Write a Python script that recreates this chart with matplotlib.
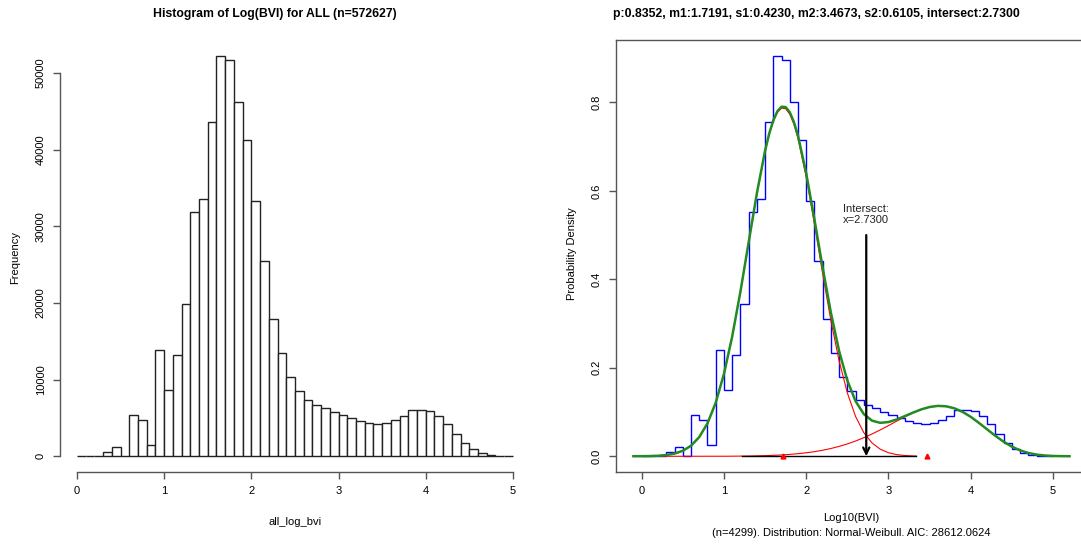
import numpy as np
import matplotlib
matplotlib.use('Agg')
import matplotlib.pyplot as plt

plt.rcParams['font.family'] = ['Liberation Sans', 'DejaVu Sans']

# histogram of log10(BVI), bins of width 0.1 from 0 to 5
bin_edges = np.round(np.arange(0, 5.05, 0.1), 1)
counts = [0, 0, 0, 565, 1260, 0, 5394, 4785, 1520, 13920,
          8660, 13270, 19880, 31930, 33580, 43630, 52220, 51765, 46240, 41325,
          33365, 25450, 17965, 13485, 10310, 8526, 7308, 6700, 6350, 5785,
          5394, 5000, 4655, 4394, 4263, 4394, 4785, 5264, 6090, 6090,
          5873, 5264, 4176, 2958, 1784, 957, 479, 218, 0, 0]

# fitted mixture curves
mix_x = [-0.1, 0.0, 0.1, 0.2, 0.3, 0.4, 0.5, 0.6, 0.7, 0.8, 0.9, 1.0, 1.1, 1.2, 1.3,
         1.4, 1.5, 1.55, 1.6, 1.65, 1.7, 1.75, 1.8, 1.85, 1.9, 2.0, 2.1, 2.2, 2.3, 2.4,
         2.5, 2.6, 2.7, 2.8, 2.9, 3.0, 3.1, 3.2, 3.3, 3.4, 3.5, 3.6, 3.7, 3.8, 3.9,
         4.0, 4.1, 4.2, 4.3, 4.4, 4.5, 4.6, 4.7, 4.8, 4.9, 5.0, 5.1, 5.2]
mix_y = [0.0001, 0.0002, 0.0005, 0.0012, 0.0028, 0.0061, 0.0124, 0.0238, 0.0433, 0.0743,
         0.1208, 0.1858, 0.2701, 0.3714, 0.4828, 0.5937, 0.6904, 0.7290, 0.7592, 0.7798,
         0.7900, 0.7893, 0.7777, 0.7558, 0.7250, 0.6397, 0.5356, 0.4264, 0.3247, 0.2379,
         0.1712, 0.1246, 0.0955, 0.0805, 0.0756, 0.0774, 0.0832, 0.0909, 0.0989, 0.1061,
         0.1114, 0.1139, 0.1130, 0.1085, 0.1004, 0.0891, 0.0754, 0.0607, 0.0461, 0.0328,
         0.0218, 0.0133, 0.0075, 0.0038, 0.0018, 0.0007, 0.0003, 0.0001]

norm_x = [0.1, 0.2, 0.3, 0.4, 0.5, 0.6, 0.7, 0.8, 0.9, 1.0, 1.1, 1.2, 1.3, 1.4, 1.5,
          1.55, 1.6, 1.65, 1.7, 1.75, 1.8, 1.85, 1.9, 2.0, 2.1, 2.2, 2.3, 2.4, 2.5, 2.6,
          2.7, 2.8, 2.9, 3.0, 3.1, 3.2, 3.3, 3.34]
norm_y = [0.0005, 0.0012, 0.0028, 0.0061, 0.0124, 0.0238, 0.0433, 0.0743, 0.1208, 0.1857,
          0.2699, 0.3710, 0.4822, 0.5927, 0.6889, 0.7272, 0.7571, 0.7772, 0.7869, 0.7856,
          0.7734, 0.7508, 0.7189, 0.6318, 0.5252, 0.4128, 0.3068, 0.2156, 0.1433, 0.0901,
          0.0535, 0.0301, 0.0160, 0.0080, 0.0038, 0.0017, 0.0007, 0.0005]

weib_x = [0.1, 0.5, 0.9, 1.0, 1.1, 1.2, 1.3, 1.4, 1.5, 1.6, 1.7, 1.8, 1.9, 2.0, 2.1,
          2.2, 2.3, 2.4, 2.5, 2.6, 2.7, 2.8, 2.9, 3.0, 3.1, 3.2, 3.3, 3.4, 3.5, 3.6,
          3.7, 3.8, 3.9, 4.0, 4.1, 4.2, 4.3, 4.4, 4.5, 4.6, 4.7, 4.8, 4.9, 5.0, 5.1]
weib_y = [0.0, 0.0, 0.0001, 0.0001, 0.0002, 0.0004, 0.0006, 0.0010, 0.0015, 0.0021,
          0.0031, 0.0043, 0.0059, 0.0079, 0.0104, 0.0136, 0.0176, 0.0223, 0.0279, 0.0345,
          0.0420, 0.0504, 0.0596, 0.0694, 0.0794, 0.0892, 0.0982, 0.1058, 0.1113, 0.1139,
          0.1130, 0.1085, 0.1004, 0.0891, 0.0754, 0.0607, 0.0461, 0.0328, 0.0218, 0.0133,
          0.0075, 0.0038, 0.0018, 0.0007, 0.0003]

means = [1.7191, 3.4673]
base_seg = [1.215, 3.34]
intersect = 2.73

ax_col = '#555555'
fs = 8

fig = plt.figure(figsize=(10.81, 5.45), dpi=100)

# ---- left: frequency histogram
ax1 = fig.add_axes([0.0551, 0.1334, 0.4355, 0.7932])
ax1.bar(bin_edges[:-1], counts, width=0.1, align='edge', color='white',
        edgecolor='#222222', linewidth=1.0)
top = max(counts)
ax1.set_ylim(-0.04 * top, 1.04 * top)
ax1.set_xlim(-0.2, 5.2)
for s in ['top', 'right']:
    ax1.spines[s].set_visible(False)
ax1.spines['left'].set_bounds(0, 50000)
ax1.spines['bottom'].set_bounds(0, 5)
for s in ['left', 'bottom']:
    ax1.spines[s].set_color(ax_col)
    ax1.spines[s].set_linewidth(1.0)
ax1.set_xticks(range(6))
ax1.set_yticks(range(0, 50001, 10000))
ax1.set_yticklabels([str(v) for v in range(0, 50001, 10000)], rotation=90, va='center')
ax1.tick_params(length=5, width=1.0, color=ax_col, labelsize=fs, pad=5)
ax1.patch.set_visible(False)

fig.text(275 / 1081, 1 - 14.5 / 545, 'Histogram of Log(BVI) for ALL (n=572627)',
         ha='center', va='center', fontsize=8.8, fontweight='bold')
fig.text(295 / 1081, 1 - 522 / 545, 'all_log_bvi', ha='center', va='center', fontsize=fs)
fig.text(15 / 1081, 1 - 258 / 545, 'Frequency', ha='center', va='center',
         rotation=90, fontsize=fs)

# ---- right: density histogram with fitted mixture
ax2 = fig.add_axes([0.5698, 0.1334, 0.4357, 0.7932])
dens, _, _ = ax2.hist(bin_edges[:-1] + 0.05, bins=bin_edges, weights=counts, density=True,
                      histtype='step', color='blue', linewidth=1.0)
ax2.plot(norm_x, norm_y, color='red', linewidth=0.8)
ax2.plot(weib_x, weib_y, color='red', linewidth=0.8)
ax2.plot(base_seg, [0, 0], color='black', linewidth=1.0)
ax2.plot(mix_x, mix_y, color='#228B22', linewidth=1.8)
ax2.plot(means, [0, 0], linestyle='none', marker='^', color='red', markersize=3.5)
ax2.annotate('', xy=(intersect, 0), xytext=(intersect, 0.5),
             arrowprops=dict(arrowstyle='->,head_length=0.45,head_width=0.22',
                             color='black', lw=1.6, shrinkA=0, shrinkB=0))
ax2.text(intersect, 0.547, 'Intersect:\nx=%.4f' % intersect, ha='center', va='center',
         fontsize=fs, color='#222222', linespacing=1.1)

dtop = dens.max()
ax2.set_ylim(-0.04 * dtop, 1.04 * dtop)
ax2.set_xlim(-0.312, 5.412)
for s in ax2.spines.values():
    s.set_color(ax_col)
    s.set_linewidth(1.0)
ax2.set_xticks(range(6))
ax2.set_yticks([0.0, 0.2, 0.4, 0.6, 0.8])
ax2.set_yticklabels(['0.0', '0.2', '0.4', '0.6', '0.8'], rotation=90, va='center')
ax2.tick_params(length=5, width=1.0, color=ax_col, labelsize=fs, pad=5)

fig.text(816 / 1081, 1 - 14.5 / 545,
         'p:0.8352, m1:1.7191, s1:0.4230, m2:3.4673, s2:0.6105, intersect:2.7300',
         ha='center', va='center', fontsize=8.8, fontweight='bold')
fig.text(851 / 1081, 1 - 518 / 545, 'Log10(BVI)', ha='center', va='center', fontsize=fs)
fig.text(851 / 1081, 1 - 533 / 545, '(n=4299). Distribution: Normal-Weibull. AIC: 28612.0624',
         ha='center', va='center', fontsize=fs)
fig.text(572 / 1081, 1 - 254 / 545, 'Probability Density', ha='center', va='center',
         rotation=90, fontsize=fs)

fig.savefig('out.png', dpi=100)
